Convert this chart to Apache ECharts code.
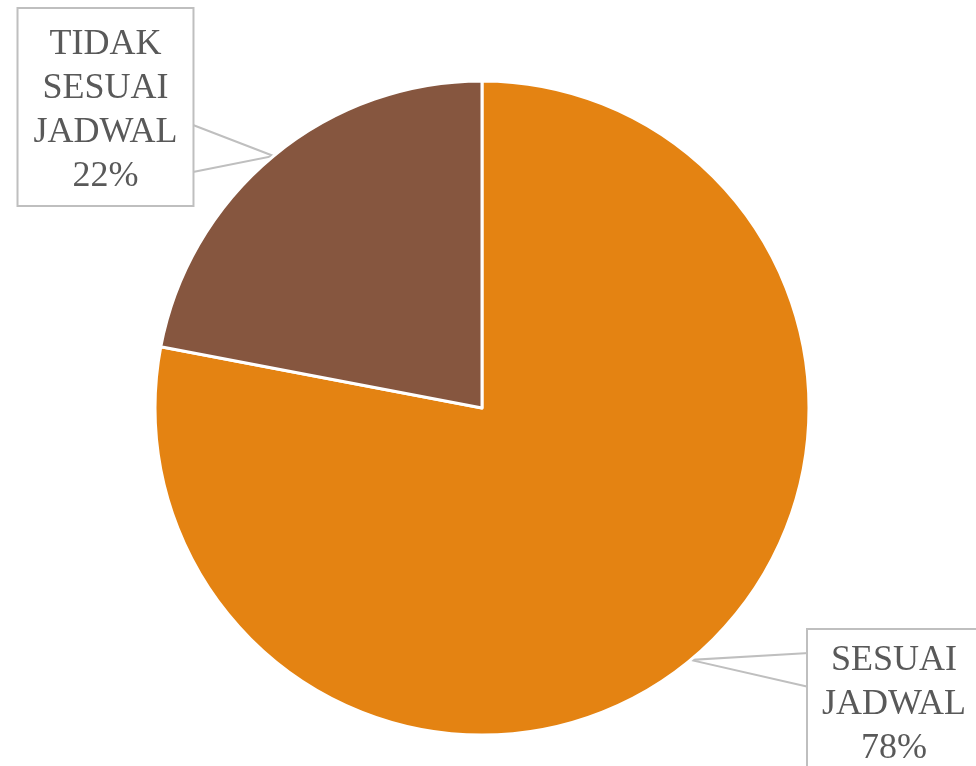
<!DOCTYPE html>
<html><head><meta charset="utf-8">
<script src="https://cdn.jsdelivr.net/npm/echarts@6/dist/echarts.min.js"></script>
<style>html,body{margin:0;padding:0;background:#fff}#c{width:976px;height:766px}</style>
</head><body><div id="c"></div>
<script>
const categories = ['SESUAI JADWAL', 'TIDAK SESUAI JADWAL'];
const values = [78, 22];
const colors = ['#E48312', '#86563F'];

const chart = echarts.init(document.getElementById('c'), null, {renderer: 'canvas'});
// label box layout: anchor (top-center), side edge x for callout, callout base y range
const labelPos = [
  {x: 894, y: 630, edge: 809, b1: 653, b2: 687, pad: [9, 14, 9, 14]},
  {x: 105.5, y: 9, edge: 193, b1: 125, b2: 172, pad: [14, 15, 6, 15]}
];
chart.setOption({
  animation: false,
  series: [{
    type: 'pie',
    center: [482, 408],
    radius: 327,
    startAngle: 90,
    clockwise: true,
    data: categories.map((n, i) => ({
      name: n, value: values[i],
      itemStyle: {color: colors[i]},
      label: {padding: labelPos[i].pad}
    })),
    itemStyle: {borderColor: '#fff', borderWidth: 3},
    label: {
      show: true,
      position: 'outside',
      formatter: p => p.name.split(' ').join('\n') + '\n' + p.value + '%',
      fontFamily: 'Liberation Serif',
      fontSize: 36,
      lineHeight: 44,
      color: '#595959',
      backgroundColor: '#fff',
      borderColor: '#bfbfbf',
      borderWidth: 2,
      align: 'center'
    },
    labelLine: {show: true, lineStyle: {color: '#bfbfbf', width: 2}, length: 20, length2: 20},
    labelLayout: function (params) {
      const p = labelPos[params.dataIndex];
      const tip = params.labelLinePoints ? params.labelLinePoints[0] : null;
      const out = {x: p.x, y: p.y, align: 'center', verticalAlign: 'top'};
      if (tip) out.labelLinePoints = [[p.edge, p.b1], tip, [p.edge, p.b2]];
      return out;
    }
  }]
});
</script></body></html>
